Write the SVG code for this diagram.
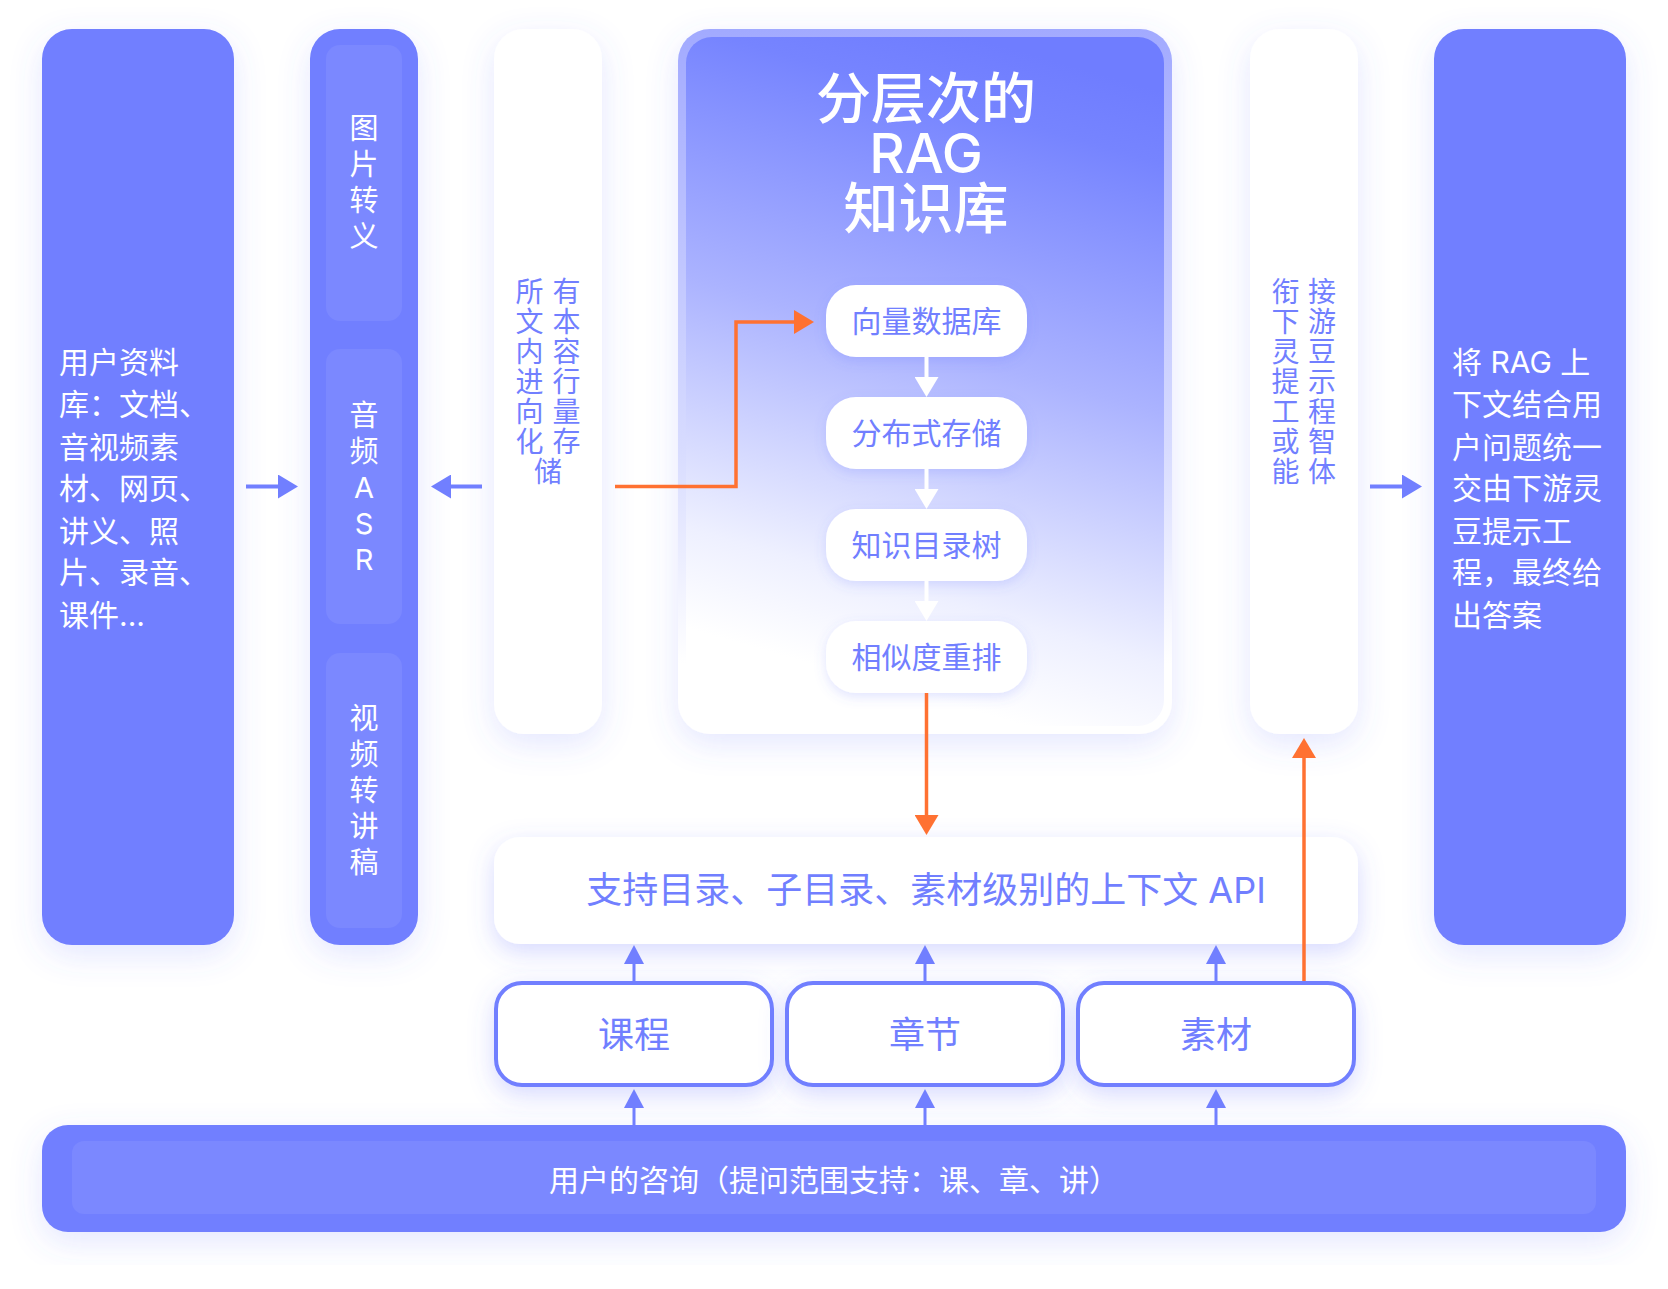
<svg xmlns="http://www.w3.org/2000/svg" width="1668" height="1289" viewBox="0 0 1668 1289">
<defs>
<style>
.t{font-family:Inter,"Noto Sans CJK SC",sans-serif;}
.w{fill:#ffffff;}
.b{fill:#717FFF;}
.lb{fill:none;stroke:#717FFF;stroke-width:4;}
.ls{fill:none;stroke:#717FFF;stroke-width:3;}
.lo{fill:none;stroke:#FF7132;stroke-width:3.5;}
.lw{fill:none;stroke:#ffffff;stroke-width:4;}
</style>
<filter id="sh" x="-30%" y="-30%" width="160%" height="160%">
<feDropShadow dx="0" dy="10" stdDeviation="16" flood-color="#5A6BFF" flood-opacity="0.16"/>
</filter>
<filter id="sh2" x="-30%" y="-40%" width="160%" height="180%">
<feDropShadow dx="0" dy="8" stdDeviation="12" flood-color="#5A6BFF" flood-opacity="0.25"/>
</filter>
<filter id="sh3" x="-20%" y="-30%" width="140%" height="160%">
<feDropShadow dx="0" dy="4" stdDeviation="6" flood-color="#5A6BFF" flood-opacity="0.18"/>
</filter>
<linearGradient id="gOuter" x1="0" y1="0" x2="0" y2="1">
<stop offset="0" stop-color="#A2AAFF"/>
<stop offset="0.6" stop-color="#D8DCFF"/>
<stop offset="0.9" stop-color="#FFFFFF"/>
</linearGradient>
<linearGradient id="gInner" x1="0.6" y1="0" x2="0.4" y2="1">
<stop offset="0" stop-color="#6F7DFF"/>
<stop offset="0.1" stop-color="#7684FF"/>
<stop offset="0.45" stop-color="#ABB3FF"/>
<stop offset="0.8" stop-color="#EEF0FF"/>
<stop offset="0.94" stop-color="#FFFFFF"/>
</linearGradient>
<marker id="ab" markerUnits="userSpaceOnUse" markerWidth="20" markerHeight="24" refX="0" refY="12" orient="auto">
<path d="M0,0 L20,12 L0,24 z" fill="#717FFF"/>
</marker>
<marker id="as" markerUnits="userSpaceOnUse" markerWidth="19" markerHeight="20" refX="0" refY="10" orient="auto">
<path d="M0,0 L19,10 L0,20 z" fill="#717FFF"/>
</marker>
<marker id="ao" markerUnits="userSpaceOnUse" markerWidth="20" markerHeight="24" refX="0" refY="12" orient="auto">
<path d="M0,0 L20,12 L0,24 z" fill="#FF7132"/>
</marker>
<marker id="aw" markerUnits="userSpaceOnUse" markerWidth="20" markerHeight="24" refX="0" refY="12" orient="auto">
<path d="M0,0 L20,12 L0,24 z" fill="#ffffff"/>
</marker>
</defs>
<rect width="1668" height="1289" fill="#ffffff"/>

<g id="source">
<rect x="42" y="29" width="192" height="916" rx="30" class="b" filter="url(#sh)"/>
<text class="t w" font-size="30"><tspan x="59" y="373">用户资料</tspan><tspan x="59" y="415">库：文档、</tspan><tspan x="59" y="458">音视频素</tspan><tspan x="59" y="499">材、网页、</tspan><tspan x="59" y="542">讲义、照</tspan><tspan x="59" y="583">片、录音、</tspan><tspan x="59" y="626">课件...</tspan></text>
</g>

<g id="convert">
<rect x="310" y="29" width="108" height="916" rx="30" class="b" filter="url(#sh)"/>
<rect x="326" y="45" width="76" height="276" rx="14" fill="#7B88FF"/>
<rect x="326" y="349" width="76" height="275" rx="14" fill="#7B88FF"/>
<rect x="326" y="653" width="76" height="275" rx="14" fill="#7B88FF"/>
<text class="t w" font-size="29" text-anchor="middle"><tspan x="364" y="139">图</tspan><tspan x="364" y="175">片</tspan><tspan x="364" y="211">转</tspan><tspan x="364" y="247">义</tspan></text>
<text class="t w" font-size="29" text-anchor="middle"><tspan x="364" y="426">音</tspan><tspan x="364" y="462">频</tspan><tspan x="364" y="498">A</tspan><tspan x="364" y="534">S</tspan><tspan x="364" y="570">R</tspan></text>
<text class="t w" font-size="29" text-anchor="middle"><tspan x="364" y="729">视</tspan><tspan x="364" y="765">频</tspan><tspan x="364" y="801">转</tspan><tspan x="364" y="837">讲</tspan><tspan x="364" y="873">稿</tspan></text>
</g>

<g id="vectorize">
<rect x="494" y="29" width="108" height="705" rx="30" fill="#ffffff" filter="url(#sh)"/>
<text class="t b" font-size="28" text-anchor="middle"><tspan x="529.5 566.5" y="302">所有</tspan><tspan x="529.5 566.5" y="332">文本</tspan><tspan x="529.5 566.5" y="362">内容</tspan><tspan x="529.5 566.5" y="392">进行</tspan><tspan x="529.5 566.5" y="422">向量</tspan><tspan x="529.5 566.5" y="452">化存</tspan><tspan x="548" y="482">储</tspan></text>
</g>

<g id="rag">
<rect x="678" y="29" width="494" height="705" rx="32" fill="url(#gOuter)" filter="url(#sh)"/>
<rect x="686" y="37" width="478" height="689" rx="26" fill="url(#gInner)"/>
<text class="t w" font-size="55" font-weight="500" text-anchor="middle"><tspan x="926" y="118">分层次的</tspan><tspan x="926" y="173">RAG</tspan><tspan x="926" y="228">知识库</tspan></text>
</g>

<g id="n-vecdb">
<rect x="826" y="285" width="201" height="72" rx="30" fill="#ffffff" filter="url(#sh3)"/>
<text class="t b" font-size="30" text-anchor="middle" x="926.5" y="332">向量数据库</text>
</g>
<g id="n-dist">
<rect x="826" y="397" width="201" height="72" rx="30" fill="#ffffff" filter="url(#sh3)"/>
<text class="t b" font-size="30" text-anchor="middle" x="926.5" y="444">分布式存储</text>
</g>
<g id="n-tree">
<rect x="826" y="509" width="201" height="72" rx="30" fill="#ffffff" filter="url(#sh3)"/>
<text class="t b" font-size="30" text-anchor="middle" x="926.5" y="556">知识目录树</text>
</g>
<g id="n-rerank">
<rect x="826" y="621" width="201" height="72" rx="30" fill="#ffffff" filter="url(#sh3)"/>
<text class="t b" font-size="30" text-anchor="middle" x="926.5" y="668">相似度重排</text>
</g>

<g id="downstream">
<rect x="1250" y="29" width="108" height="705" rx="30" fill="#ffffff" filter="url(#sh)"/>
<text class="t b" font-size="28" text-anchor="middle"><tspan x="1285.5 1322" y="302">衔接</tspan><tspan x="1285.5 1322" y="332">下游</tspan><tspan x="1285.5 1322" y="362">灵豆</tspan><tspan x="1285.5 1322" y="392">提示</tspan><tspan x="1285.5 1322" y="422">工程</tspan><tspan x="1285.5 1322" y="452">或智</tspan><tspan x="1285.5 1322" y="482">能体</tspan></text>
</g>

<g id="answer">
<rect x="1434" y="29" width="192" height="916" rx="30" class="b" filter="url(#sh)"/>
<text class="t w" font-size="30"><tspan x="1452" y="373">将 RAG 上</tspan><tspan x="1452" y="415">下文结合用</tspan><tspan x="1452" y="458">户问题统一</tspan><tspan x="1452" y="499">交由下游灵</tspan><tspan x="1452" y="542">豆提示工</tspan><tspan x="1452" y="583">程，最终给</tspan><tspan x="1452" y="626">出答案</tspan></text>
</g>

<g id="api">
<rect x="494" y="837" width="864" height="107" rx="26" fill="#ffffff" filter="url(#sh2)"/>
<text class="t b" font-size="36" text-anchor="middle" x="926" y="903">支持目录、子目录、素材级别的上下文 API</text>
</g>

<g id="course">
<rect x="496" y="983" width="276" height="102" rx="26" fill="#ffffff" stroke="#717FFF" stroke-width="4" filter="url(#sh2)"/>
<text class="t b" font-size="36" text-anchor="middle" x="634" y="1048">课程</text>
</g>
<g id="chapter">
<rect x="787" y="983" width="276" height="102" rx="26" fill="#ffffff" stroke="#717FFF" stroke-width="4" filter="url(#sh2)"/>
<text class="t b" font-size="36" text-anchor="middle" x="925" y="1048">章节</text>
</g>
<g id="material">
<rect x="1078" y="983" width="276" height="102" rx="26" fill="#ffffff" stroke="#717FFF" stroke-width="4" filter="url(#sh2)"/>
<text class="t b" font-size="36" text-anchor="middle" x="1216" y="1048">素材</text>
</g>

<g id="query">
<rect x="42" y="1125" width="1584" height="107" rx="26" class="b" filter="url(#sh)"/>
<rect x="72" y="1141" width="1524" height="73" rx="12" fill="#7B88FF"/>
<text class="t w" font-size="30" text-anchor="middle" x="834" y="1191">用户的咨询（提问范围支持：课、章、讲）</text>
</g>

<g id="connectors">
<line class="lb" x1="246" y1="486.5" x2="278" y2="486.5" marker-end="url(#ab)"/>
<line class="lb" x1="482" y1="486.5" x2="451" y2="486.5" marker-end="url(#ab)"/>
<line class="lb" x1="1370" y1="486.5" x2="1402" y2="486.5" marker-end="url(#ab)"/>
<path class="lo" d="M615,486.5 H736 V322 H794" marker-end="url(#ao)"/>
<line class="lo" x1="926.5" y1="693" x2="926.5" y2="815" marker-end="url(#ao)"/>
<line class="lo" x1="1304" y1="981" x2="1304" y2="758" marker-end="url(#ao)"/>
<line class="lw" x1="926.5" y1="357" x2="926.5" y2="377" marker-end="url(#aw)"/>
<line class="lw" x1="926.5" y1="469" x2="926.5" y2="489" marker-end="url(#aw)"/>
<line class="lw" x1="926.5" y1="581" x2="926.5" y2="601" marker-end="url(#aw)"/>
<line class="ls" x1="634" y1="981" x2="634" y2="964" marker-end="url(#as)"/>
<line class="ls" x1="925" y1="981" x2="925" y2="964" marker-end="url(#as)"/>
<line class="ls" x1="1216" y1="981" x2="1216" y2="964" marker-end="url(#as)"/>
<line class="ls" x1="634" y1="1125" x2="634" y2="1108" marker-end="url(#as)"/>
<line class="ls" x1="925" y1="1125" x2="925" y2="1108" marker-end="url(#as)"/>
<line class="ls" x1="1216" y1="1125" x2="1216" y2="1108" marker-end="url(#as)"/>
</g>
</svg>
